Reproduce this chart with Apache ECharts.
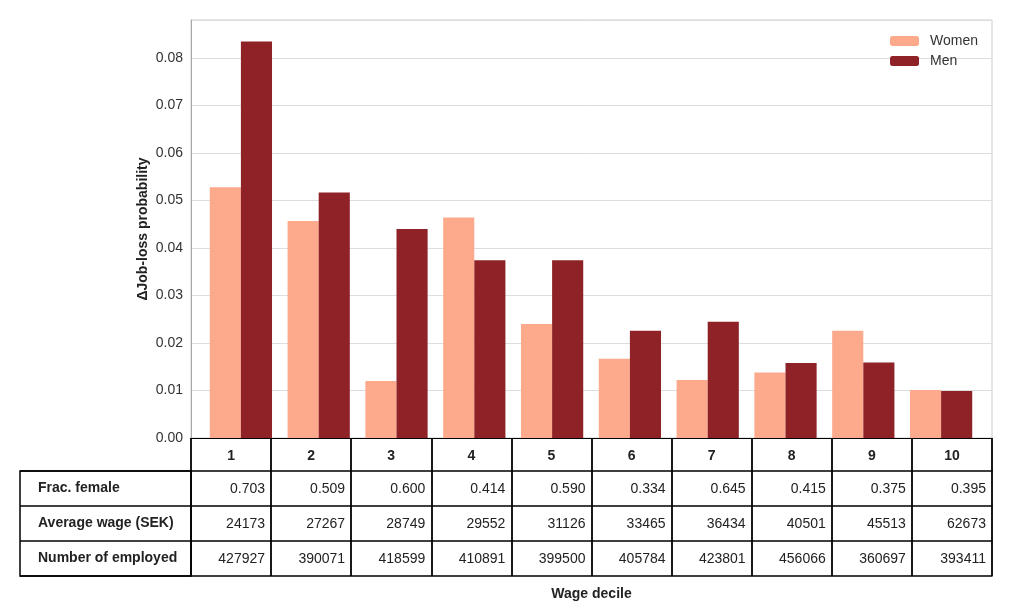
<!DOCTYPE html>
<html>
<head>
<meta charset="utf-8">
<script src="https://cdn.jsdelivr.net/npm/echarts@6/dist/echarts.min.js"></script>
<style>
html,body{margin:0;padding:0;background:#fff;}
#chart{width:1024px;height:613px;}
</style>
</head>
<body>
<div id="chart"></div>
<script>
var deciles = ['1','2','3','4','5','6','7','8','9','10'];
var women = [0.0528, 0.0457, 0.0120, 0.0464, 0.0240, 0.0167, 0.0122, 0.0138, 0.0226, 0.0101];
var men = [0.0835, 0.0517, 0.0440, 0.0374, 0.0374, 0.0226, 0.0245, 0.0158, 0.0159, 0.0099];
var rowLabels = ['Frac. female', 'Average wage (SEK)', 'Number of employed'];
var fracFemale = ['0.703','0.509','0.600','0.414','0.590','0.334','0.645','0.415','0.375','0.395'];
var avgWage = ['24173','27267','28749','29552','31126','33465','36434','40501','45513','62673'];
var numEmployed = ['427927','390071','418599','410891','399500','405784','423801','456066','360697','393411'];
var yTicks = ['0.00','0.01','0.02','0.03','0.04','0.05','0.06','0.07','0.08'];

var FONT = 'Liberation Sans, Arial, sans-serif';
var TXT = '#222';
var rows = [fracFemale, avgWage, numEmployed];
var Y_MAX = 0.088;

function rowAxis(idx, offset) {
  var arr = rows[idx];
  return {
    type: 'category', gridIndex: 0, data: deciles, position: 'bottom', offset: offset,
    axisLine: {show: true, lineStyle: {color: '#000', width: 1.5}},
    axisTick: {show: false},
    axisLabel: {
      interval: 0, margin: 11, fontFamily: FONT, fontSize: 14, color: TXT,
      formatter: function (v, i) { return '{v|' + arr[i] + '}'; },
      rich: {v: {width: 68, align: 'right', fontFamily: FONT, fontSize: 14, color: TXT}}
    },
    splitLine: {show: false}
  };
}

var chart = echarts.init(document.getElementById('chart'), null, {renderer: 'canvas'});
chart.setOption({
  animation: false,
  backgroundColor: '#fff',
  textStyle: {fontFamily: FONT},
  grid: [
    {left: 191, right: 32, top: 20, bottom: 175, show: true, borderColor: '#cccccc', borderWidth: 1, backgroundColor: 'transparent'},
    {left: 20, width: 171, top: 471, height: 105, show: true, borderColor: '#000', borderWidth: 1.5, backgroundColor: 'transparent'},
    {left: 202, right: 44, top: 20, bottom: 175, show: false}
  ],
  legend: {
    orient: 'vertical', right: 41, top: 29, itemWidth: 29, itemHeight: 10, itemGap: 6,
    textStyle: {fontFamily: FONT, fontSize: 14, color: '#333', padding: [0, 0, 0, 6]},
    data: ['Women', 'Men']
  },
  xAxis: [
    {
      type: 'category', gridIndex: 0, data: deciles, position: 'bottom',
      axisLine: {show: true, lineStyle: {color: '#000', width: 1.2}},
      axisTick: {show: true, interval: 0, alignWithLabel: false, length: 138, lineStyle: {color: '#000', width: 1.8}},
      axisLabel: {interval: 0, margin: 11, fontFamily: FONT, fontSize: 14, fontWeight: 'bold', color: TXT},
      splitLine: {show: false}
    },
    rowAxis(0, 33),
    rowAxis(1, 68),
    rowAxis(2, 103),
    {
      type: 'category', gridIndex: 0, data: deciles, position: 'bottom', offset: 138,
      axisLine: {show: true, lineStyle: {color: '#000', width: 1.5}},
      axisTick: {show: false}, axisLabel: {show: false},
      name: 'Wage decile', nameLocation: 'middle', nameGap: 11,
      nameTextStyle: {fontFamily: FONT, fontSize: 14, fontWeight: 'bold', color: TXT}
    },
    {type: 'value', gridIndex: 1, show: false, min: 0, max: 1},
    {type: 'category', gridIndex: 2, data: deciles, show: false}
  ],
  yAxis: [
    {
      type: 'value', gridIndex: 0, min: 0, max: Y_MAX, interval: 0.01,
      axisLine: {show: true, lineStyle: {color: '#aaaaaa', width: 1}},
      axisTick: {show: false},
      axisLabel: {
        fontFamily: FONT, fontSize: 14, color: '#333', margin: 8,
        formatter: function (v) {
          var i = Math.round(v / 0.01);
          if (Math.abs(v - i * 0.01) > 1e-6 || i >= yTicks.length) return '';
          return yTicks[i];
        }
      },
      splitLine: {show: true, lineStyle: {color: '#dddddd', width: 1}}
    },
    {
      type: 'category', gridIndex: 1, data: rowLabels, inverse: true,
      axisLine: {show: false}, axisTick: {show: false},
      axisLabel: {inside: true, margin: 18, fontFamily: FONT, fontSize: 14, fontWeight: 'bold', color: TXT, align: 'left'},
      splitLine: {show: true, lineStyle: {color: '#000', width: 1.5}}
    },
    {
      type: 'value', gridIndex: 2, min: 0, max: Y_MAX, show: true,
      axisLine: {show: false}, axisTick: {show: false}, axisLabel: {show: false}, splitLine: {show: false},
      name: '\u0394Job-loss probability', nameLocation: 'middle', nameGap: 52,
      nameTextStyle: {fontFamily: FONT, fontSize: 14, fontWeight: 'bold', color: TXT}
    }
  ],
  series: [
    {name: 'Women', type: 'bar', xAxisIndex: 6, yAxisIndex: 2, data: women, barGap: '0%', barCategoryGap: '20%',
     itemStyle: {color: '#fcaa8b'}},
    {name: 'Men', type: 'bar', xAxisIndex: 6, yAxisIndex: 2, data: men, barGap: '0%', barCategoryGap: '20%',
     itemStyle: {color: '#8e2226'}}
  ]
});
</script>
</body>
</html>
